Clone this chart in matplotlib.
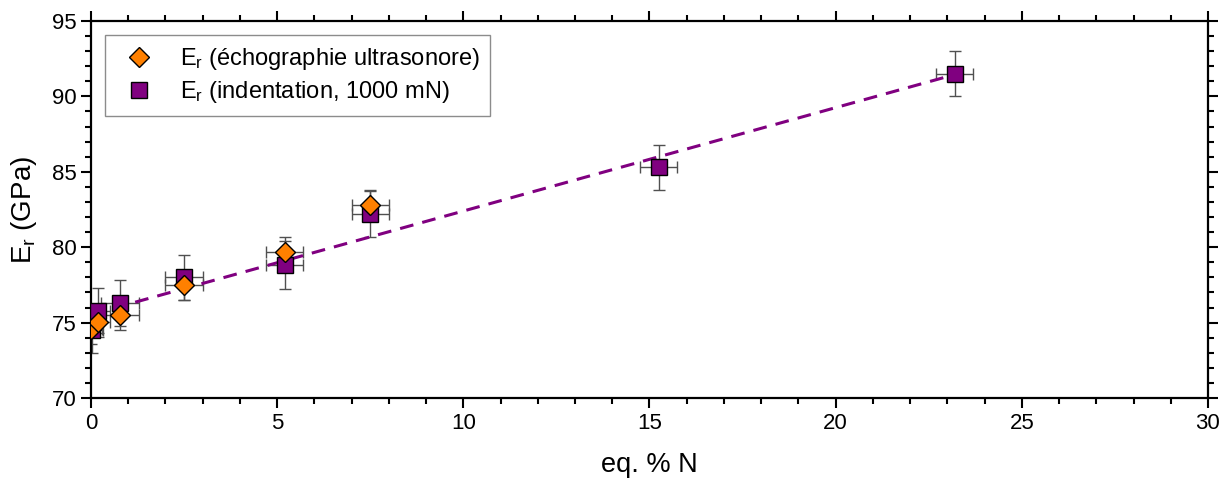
import numpy as np
import matplotlib
matplotlib.use('Agg')
import matplotlib.pyplot as plt
from matplotlib.ticker import MultipleLocator

plt.rcParams['font.family'] = ['Liberation Sans', 'DejaVu Sans']
plt.rcParams['mathtext.default'] = 'regular'

# ultrasound (orange diamonds)
x_us = [0.0, 0.2, 0.78, 2.5, 5.2, 7.5]
E_us = [74.6, 75.05, 75.5, 77.5, 79.7, 82.8]
xerr_us = [0.3, 0.3, 0.5, 0.5, 0.5, 0.5]
Eerr_us = [1.0, 1.0, 1.0, 1.0, 1.0, 1.0]

# indentation 1000 mN (purple squares)
x_ind = [0.03, 0.2, 0.78, 2.5, 5.2, 7.5, 15.25, 23.2]
E_ind = [74.5, 75.8, 76.3, 78.0, 78.8, 82.2, 85.3, 91.5]
xerr_ind = [0.3, 0.3, 0.5, 0.5, 0.5, 0.5, 0.5, 0.5]
Eerr_ind = [1.5, 1.5, 1.5, 1.5, 1.6, 1.5, 1.5, 1.5]

# linear fit, end points
fit_x = [0.0, 23.2]
fit_y = [75.54, 91.45]

fig = plt.figure(figsize=(12.28, 4.84), dpi=100)
ax = fig.add_axes([0.0741, 0.1777, 0.9096, 0.7789])

ecol = '#505050'
ax.errorbar(x_ind, E_ind, xerr=xerr_ind, yerr=Eerr_ind, fmt='none',
            ecolor=ecol, elinewidth=1, capsize=4, capthick=1, zorder=2)
ax.errorbar(x_us, E_us, xerr=xerr_us, yerr=Eerr_us, fmt='none',
            ecolor=ecol, elinewidth=1, capsize=4, capthick=1, zorder=2)

ax.plot(fit_x, fit_y, color='#800080', lw=2.2, dashes=(4.5, 3), zorder=2.5)

h_ind, = ax.plot(x_ind, E_ind, 's', ms=11, mfc='#800080', mec='black',
                 mew=1, ls='none', zorder=3,
                 label='E$_\\mathregular{r}$ (indentation, 1000 mN)')
h_us, = ax.plot(x_us, E_us, 'D', ms=10.5, mfc='#ff8000', mec='black',
                mew=1, ls='none', zorder=4,
                label='E$_\\mathregular{r}$ (échographie ultrasonore)')

ax.set_xlim(0, 30)
ax.set_ylim(70, 95)
ax.xaxis.set_major_locator(MultipleLocator(5))
ax.xaxis.set_minor_locator(MultipleLocator(1))
ax.yaxis.set_major_locator(MultipleLocator(5))
ax.yaxis.set_minor_locator(MultipleLocator(1))
ax.tick_params(which='both', direction='out', top=True, right=True,
               width=1.5, labelsize=16, colors='black')
ax.tick_params(which='major', length=7)
ax.tick_params(which='minor', length=4)
for s in ax.spines.values():
    s.set_linewidth(1.6)

ax.set_xlabel('eq. % N', fontsize=19.5, labelpad=13)
ax.set_ylabel('E$_\\mathregular{r}$ (GPa)', fontsize=20, labelpad=9)

leg = ax.legend(handles=[h_us, h_ind], loc='upper left', fontsize=17,
                frameon=True, fancybox=False, edgecolor='#707070',
                borderaxespad=0.6, handletextpad=0.7, labelspacing=0.3,
                borderpad=0.45)
leg.get_frame().set_linewidth(1)

fig.savefig('out.png', dpi=100)
